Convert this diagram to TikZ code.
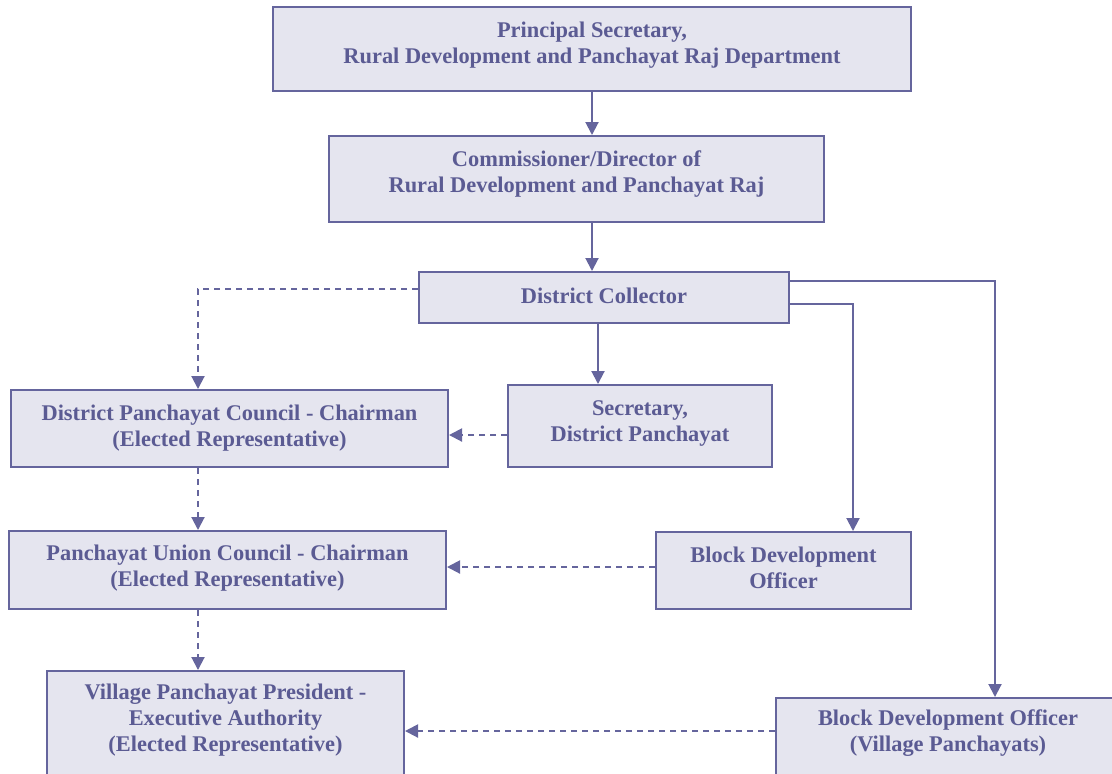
\documentclass[tikz,border=0pt]{standalone}
\usepackage{fontspec}
\setmainfont{Liberation Serif}
\usetikzlibrary{arrows.meta}
\definecolor{boxfill}{HTML}{E5E5EF}
\definecolor{boxline}{HTML}{65659D}
\definecolor{boxtext}{HTML}{5B5B93}
\begin{document}
\begin{tikzpicture}[x=0.5pt,y=-0.5pt,
      post/.style={draw=boxline,fill=boxfill,line width=1pt,text=boxtext,
        font=\fontsize{11.2pt}{13pt}\selectfont\bfseries,align=center,inner sep=0pt},
      link/.style={draw=boxline,line width=1pt,-{Triangle[length=6.5pt,width=6.5pt]}},
      advise/.style={link,dash pattern=on 3pt off 2.5pt}
      ]
      \useasboundingbox (0,0) rectangle (1112,773);
      \clip (0,0) rectangle (1112,773);
      % boxes
      \node[post,minimum width=319pt,minimum height=42pt,text depth=6.5pt] (ps) at (592,49)
        {Principal Secretary,\\Rural Development and Panchayat Raj Department};
      \node[post,minimum width=247.5pt,minimum height=43pt,text depth=6.9pt] (cd) at (576.5,179)
        {Commissioner/Director of\\Rural Development and Panchayat Raj};
      \node[post,minimum width=185pt,minimum height=25.5pt,text depth=2pt] (dc) at (604,297.5)
        {District Collector};
      \node[post,minimum width=218.5pt,minimum height=38.5pt] (dpc) at (229.5,428.5)
        {District Panchayat Council - Chairman\\(Elected Representative)};
      \node[post,minimum width=132pt,minimum height=41pt,text depth=5.4pt] (sec) at (640,426)
        {Secretary,\\District Panchayat};
      \node[post,minimum width=218.5pt,minimum height=39pt,text depth=3.9pt] (puc) at (227.5,570)
        {Panchayat Union Council - Chairman\\(Elected Representative)};
      \node[post,minimum width=127.5pt,minimum height=38.5pt,text depth=3pt] (bdo) at (783.5,570.5)
        {Block Development\\Officer};
      \node[post,anchor=north,minimum width=178.5pt,minimum height=60pt,text depth=13.5pt] (vpp) at (225.5,670)
        {Village Panchayat President -\\Executive Authority\\(Elected Representative)};
      \node[post,anchor=north,minimum width=172pt,minimum height=50pt,text depth=17pt] (bvp) at (948,697)
        {Block Development Officer\\(Village Panchayats)};
      % solid lines of control
      \draw[link] (ps.south) -- (ps.south |- cd.north);
      \draw[link] (592,0 |- cd.south) -- (592,0 |- dc.north);
      \draw[link] (598,0 |- dc.south) -- (598,0 |- sec.north);
      \draw[link] (dc.east |- 0,304) -| (853,0 |- bdo.north);
      \draw[link] (dc.east |- 0,281) -| (995,0 |- bvp.north);
      % dashed lines
      \draw[advise] (dc.west |- 0,289) -| (198,0 |- dpc.north);
      \draw[advise] (sec.west |- 0,435) -- (dpc.east |- 0,435);
      \draw[advise] (198,0 |- dpc.south) -- (198,0 |- puc.north);
      \draw[advise] (bdo.west |- 0,567) -- (puc.east |- 0,567);
      \draw[advise] (198,0 |- puc.south) -- (198,0 |- vpp.north);
      \draw[advise] (bvp.west |- 0,731) -- (vpp.east |- 0,731);
\end{tikzpicture}
\end{document}
